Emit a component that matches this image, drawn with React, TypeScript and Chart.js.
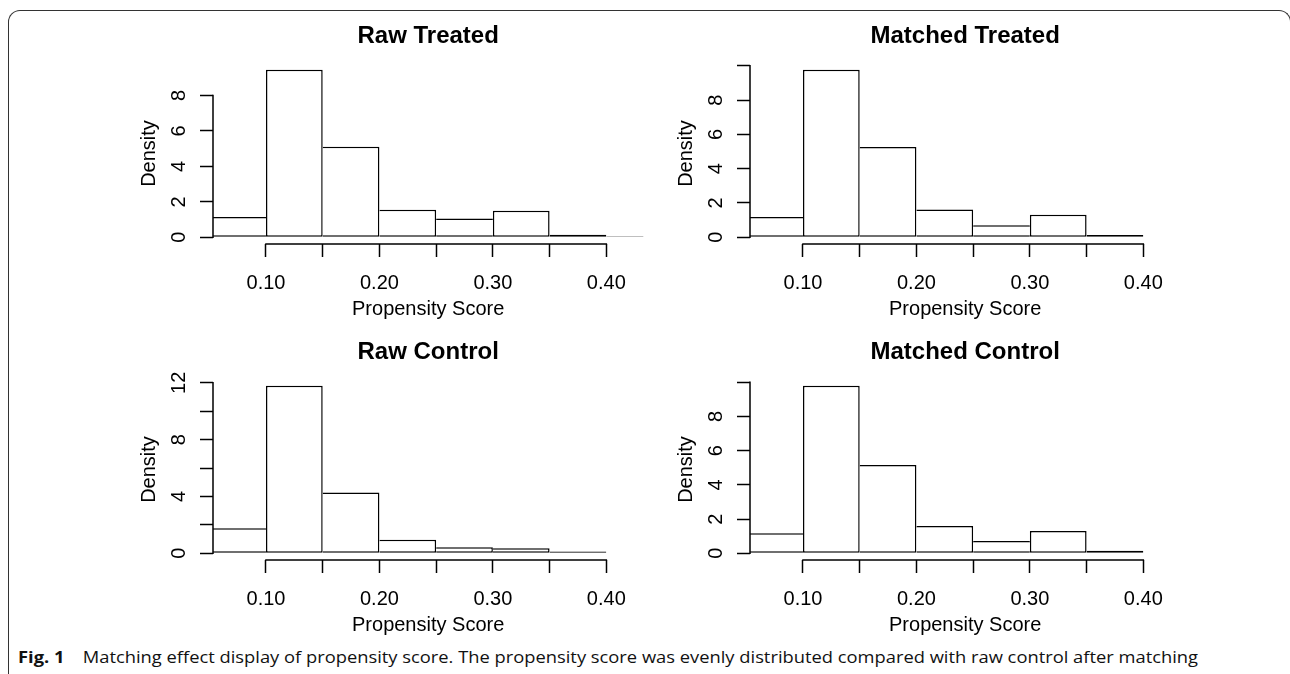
import React, { useEffect, useRef } from 'react';
import { Chart, registerables } from 'chart.js';

Chart.register(...registerables);

// ---------------- data ----------------
const binCenters = [0.075, 0.125, 0.175, 0.225, 0.275, 0.325, 0.375, 0.425];

const rawTreated = [1.15, 9.45, 5.1, 1.56, 1.06, 1.49, 0.15, 0.06];
const matchedTreated = [1.19, 9.77, 5.27, 1.62, 0.7, 1.32, 0.14];
const rawControl = [1.77, 11.8, 4.28, 0.95, 0.43, 0.36, 0.12, 0.04];
const matchedControl = [1.17, 9.8, 5.17, 1.6, 0.72, 1.31, 0.15];

const xTickValues = [0.1, 0.15, 0.2, 0.25, 0.3, 0.35, 0.4];
const xTickLabels = ['0.10', '', '0.20', '', '0.30', '', '0.40'];
const xMin = 0.0533;
const xMax = 0.4326;

const yTicksTo8 = [0, 2, 4, 6, 8];
const yLabelsTo8 = ['0', '2', '4', '6', '8'];
const yTicksTo10 = [0, 2, 4, 6, 8, 10];
const yLabelsTo10 = ['0', '2', '4', '6', '8', ''];
const yTicksTo12 = [0, 2, 4, 6, 8, 10, 12];
const yLabelsTo12 = ['0', '', '4', '', '8', '', '12'];

const xTitle = 'Propensity Score';
const yTitle = 'Density';
const captionBold = 'Fig. 1';
const captionText =
  'Matching effect display of propensity score. The propensity score was evenly distributed compared with raw control after matching';

// ---------------- style ----------------
const FONT = '"Liberation Sans", Arial, Helvetica, sans-serif';
const LABEL_SIZE = 20;
const TITLE_SIZE = 24;
const LW = 1.5;
const TICK_LEN = 13;
const Y_LABEL_OFFSET = 34; // from axis line to label centre
const AXIS_W = 110; // room left of plot region inside canvas
const PLOT_W = 430.3;
const CANVAS_W = 551;
const CANVAS_H = 324;
const TOP_SPACE = 63;
const X_AXIS_H = 80;

type PanelProps = {
  title: string;
  values: number[];
  yTicks: number[];
  yLabels: string[];
  left: number;
  top: number;
};

function Histogram({ title, values, yTicks, yLabels, left, top }: PanelProps) {
  const ref = useRef<HTMLCanvasElement>(null);

  useEffect(() => {
    const canvas = ref.current;
    if (!canvas) return;
    const mctx = document.createElement('canvas').getContext('2d')!;
    mctx.font = `${LABEL_SIZE}px ${FONT}`;
    const widest = Math.max(...yLabels.map((l) => mctx.measureText(l).width));
    const yPad = Y_LABEL_OFFSET - TICK_LEN - widest / 2;
    const maxV = Math.max(...values);

    const axisLines = {
      id: 'rAxisLines',
      afterDraw(chart: any) {
        const { ctx, chartArea, scales } = chart;
        const xs = scales.x;
        const ys = scales.y;
        ctx.save();
        ctx.strokeStyle = '#000';
        ctx.lineWidth = LW;
        ctx.beginPath();
        const xa = xs.getPixelForValue(xTickValues[0]);
        const xb = xs.getPixelForValue(xTickValues[xTickValues.length - 1]);
        ctx.moveTo(xa - LW / 2, chartArea.bottom);
        ctx.lineTo(xb + LW / 2, chartArea.bottom);
        const ya = ys.getPixelForValue(yTicks[0]);
        const yb = ys.getPixelForValue(yTicks[yTicks.length - 1]);
        ctx.moveTo(chartArea.left, ya + LW / 2);
        ctx.lineTo(chartArea.left, yb - LW / 2);
        ctx.stroke();
        ctx.restore();
      },
    };

    const chart = new Chart(canvas, {
      type: 'bar',
      data: {
        datasets: [
          {
            data: values.map((v, i) => ({ x: binCenters[i], y: v })),
            backgroundColor: '#ffffff',
            borderColor: '#000000',
            borderWidth: (c: any) => {
              const i = c.dataIndex;
              if (i === undefined) return LW;
              const l = i === 0 || values[i] >= values[i - 1] ? LW : 0;
              const r = i === values.length - 1 || values[i] > values[i + 1] ? LW : 0;
              return { top: LW, bottom: LW, left: l, right: r };
            },
            borderSkipped: false,
            inflateAmount: 0,
            barPercentage: 1,
            categoryPercentage: 1,
            clip: { left: 0, right: 0, top: false, bottom: false },
          } as any,
        ],
      },
      options: {
        animation: false,
        responsive: true,
        maintainAspectRatio: false,
        events: [],
        layout: {
          padding: { left: 0, top: 0, bottom: 0, right: CANVAS_W - AXIS_W - PLOT_W },
        },
        plugins: {
          legend: { display: false },
          tooltip: { enabled: false },
          title: {
            display: true,
            text: title,
            fullSize: false,
            color: '#000',
            font: { family: FONT, size: TITLE_SIZE, weight: 'bold', lineHeight: 1.2 },
            padding: { top: 21.9, bottom: TOP_SPACE - 21.9 - TITLE_SIZE * 1.2 },
          },
        },
        scales: {
          x: {
            type: 'linear',
            min: xMin,
            max: xMax,
            offset: false,
            border: { display: false },
            grid: {
              display: true,
              offset: false,
              drawOnChartArea: false,
              drawTicks: true,
              tickLength: TICK_LEN,
              tickColor: '#000',
              tickWidth: LW,
            },
            afterBuildTicks: (s: any) => {
              s.ticks = xTickValues.map((v) => ({ value: v }));
            },
            afterFit: (s: any) => {
              s.height = X_AXIS_H;
            },
            ticks: {
              autoSkip: false,
              maxRotation: 0,
              minRotation: 0,
              padding: 14,
              color: '#000',
              font: { family: FONT, size: LABEL_SIZE, lineHeight: 1.2 },
              callback: (_v: any, i: number) => xTickLabels[i],
            },
            title: {
              display: true,
              text: xTitle,
              color: '#000',
              font: { family: FONT, size: LABEL_SIZE, lineHeight: 1.2 },
              padding: { top: 0, bottom: 3 },
            },
          },
          y: {
            type: 'linear',
            min: -0.04 * maxV,
            max: 1.04 * maxV,
            border: { display: false },
            grid: {
              display: true,
              drawOnChartArea: false,
              drawTicks: true,
              tickLength: TICK_LEN,
              tickColor: '#000',
              tickWidth: LW,
            },
            afterBuildTicks: (s: any) => {
              s.ticks = yTicks.map((v) => ({ value: v }));
            },
            afterFit: (s: any) => {
              s.width = AXIS_W;
            },
            ticks: {
              autoSkip: false,
              minRotation: 90,
              maxRotation: 90,
              crossAlign: 'center',
              padding: yPad,
              color: '#000',
              font: { family: FONT, size: LABEL_SIZE, lineHeight: 1.2 },
              callback: (_v: any, i: number) => yLabels[i],
            },
            title: {
              display: true,
              text: yTitle,
              color: '#000',
              font: { family: FONT, size: LABEL_SIZE, lineHeight: 1.2 },
              padding: { top: 46.5 - LABEL_SIZE * 0.6, bottom: 0 },
            },
          },
        },
      } as any,
      plugins: [axisLines],
    });
    return () => chart.destroy();
  }, [title, values, yTicks, yLabels]);

  return (
    <div
      style={{
        position: 'absolute',
        left,
        top,
        width: CANVAS_W,
        height: CANVAS_H,
      }}
    >
      <canvas ref={ref} />
    </div>
  );
}

function Caption() {
  const ref = useRef<HTMLDivElement>(null);
  useEffect(() => {
    const el = ref.current;
    if (!el) return;
    el.style.transform = 'none';
    const w = el.getBoundingClientRect().width;
    if (w > 0) el.style.transform = `scaleX(${1180 / w})`;
  }, []);
  return (
    <div
      ref={ref}
      style={{
        position: 'absolute',
        left: 18,
        top: 646.6,
        whiteSpace: 'nowrap',
        fontFamily: '"Open Sans", "Noto Sans", sans-serif',
        fontSize: 16.5,
        lineHeight: '20px',
        color: '#111',
        transformOrigin: '0 0',
      }}
    >
      <b>{captionBold}</b>
      {'\u2003'}
      {captionText}
    </div>
  );
}

export default function App() {
  return (
    <div
      style={{
        position: 'fixed',
        left: 0,
        top: 0,
        width: 1290,
        height: 674,
        background: '#fff',
        overflow: 'hidden',
      }}
    >
      <div
        style={{
          position: 'absolute',
          left: 8,
          top: 10,
          width: 1283,
          height: 720,
          boxSizing: 'border-box',
          borderTop: '1px solid #333',
          borderLeft: '1px solid #333',
          borderRight: '1px solid #333',
          borderTopLeftRadius: 12,
          borderTopRightRadius: 12,
        }}
      />
      <Histogram title="Raw Treated" values={rawTreated} yTicks={yTicksTo8} yLabels={yLabelsTo8} left={103} top={0} />
      <Histogram title="Matched Treated" values={matchedTreated} yTicks={yTicksTo10} yLabels={yLabelsTo10} left={640} top={0} />
      <Histogram title="Raw Control" values={rawControl} yTicks={yTicksTo12} yLabels={yLabelsTo12} left={103} top={316} />
      <Histogram title="Matched Control" values={matchedControl} yTicks={yTicksTo10} yLabels={yLabelsTo10} left={640} top={316} />
      <Caption />
    </div>
  );
}
